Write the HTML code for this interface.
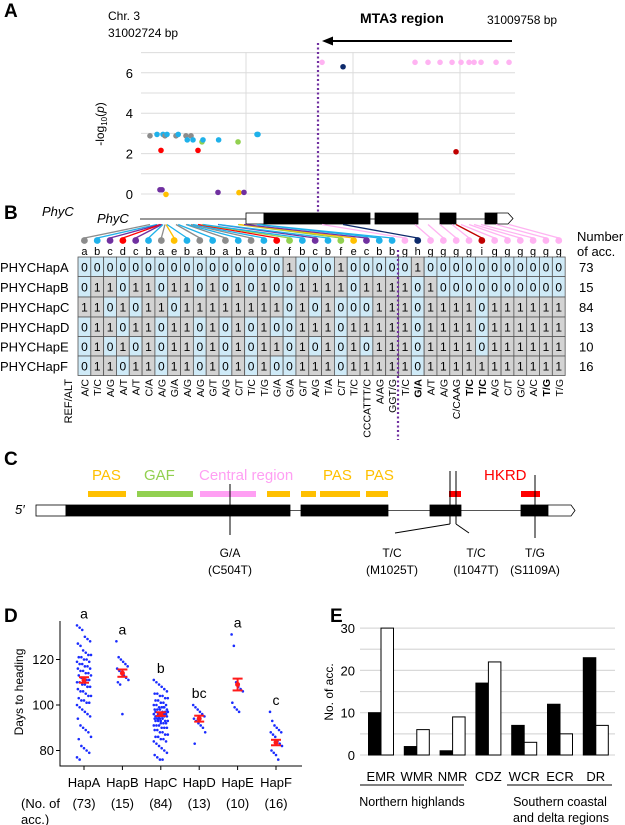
<!DOCTYPE html>
<html><head><meta charset="utf-8"><style>
body{margin:0;background:#fff;}
svg{display:block;font-family:"Liberation Sans",Arial,sans-serif;}
</style></head><body>
<svg id="fig" width="625" height="825" viewBox="0 0 625 825" xmlns="http://www.w3.org/2000/svg">
<g id="gA"></g>
<g id="gB"></g>
<g id="gC"></g>
<g id="gD"></g>
<g id="gE"></g>
</svg>
<script>
// ---------- data ----------
const regionStart = 31002724, regionEnd = 31009758;
const snpLetters = ["a","b","c","d","c","b","a","e","b","a","b","a","b","a","b","d","f","b","c","b","f","e","c","b","b","g","h","g","g","g","g","i","g","g","g","g","g","g"];
const snpOffsets = [169,301,357,376,395,414,451,470,489,658,700,846,870,941,978,1072,1147,1166,1448,1460,1825,1843,1937,2182,2200,3405,3800,5154,5398,5624,5850,5925,6019,6170,6264,6395,6678,6922];
const snpLogP = [2.88,2.95,0.21,2.16,0.21,2.95,2.88,-0.02,2.95,2.88,2.95,2.88,2.68,2.88,2.68,2.16,2.58,2.68,0.08,2.68,2.58,0.07,0.08,2.95,2.95,6.52,6.3,6.52,6.52,6.52,6.52,2.09,6.52,6.52,6.52,6.52,6.52,6.52];
const yTicksA = [0,2,4,6];
const refAlt = ["A/C","T/C","A/G","A/T","A/T","C/A","A/G","G/A","A/G","A/G","G/T","A/G","C/T","T/C","T/G","G/A","G/A","G/T","A/G","T/A","C/T","T/C","CCCATTT/C","A/AG","GGT/G","T/C","G/A","A/T","A/G","C/CAAG","T/C","T/C","A/G","C/T","G/C","A/C","T/G","T/G"];
const boldCols = [26,30,31,36];
const hapNames = ["PHYCHapA","PHYCHapB","PHYCHapC","PHYCHapD","PHYCHapE","PHYCHapF"];
const hapCounts = [73,15,84,13,10,16];
const hapRows = [
"00000000000000001000100000100000000000",
"01101101101010100111101111010000000000",
"11010110111111110101000111011110111111",
"01101101101010100111011111011110111111",
"01010101101010110101010111011110111111",
"01101101101010100111011111011111111111"];
const hapGroups = ["HapA","HapB","HapC","HapD","HapE","HapF"];
const dthA = [135,134,133,130,129,128,127,126,124,123,122,122,121,121,120,120,119,119,118,118,117,117,116,116,115,115,114,114,113,113,112,112,111,111,110,110,109,109,108,108,107,106,106,105,104,104,103,102,102,101,101,100,99,98,97,96,95,94,91,90,89,88,86,85,82,81,80,79,77,76,112,110,108];
const dthB = [128,121,120,119,118,117,116,115,114,113,112,111,110,109,96];
const dthC = [111,110,109,108,107,106,105,105,104,104,103,103,102,102,101,101,100,100,100,99,99,99,98,98,98,98,97,97,97,97,96,96,96,96,96,95,95,95,95,95,94,94,94,94,93,93,93,93,92,92,92,91,91,91,90,90,90,89,89,88,88,87,87,86,86,85,85,84,84,83,82,81,80,79,78,77,76,76,96,97,95,94,93,99];
const dthD = [100,99,98,97,96,95,94,93,92,91,90,88,83];
const dthE = [131,126,110,108,107,106,101,99,98,97];
const dthF = [97,93,91,90,89,88,88,87,86,84,83,82,80,79,78,76];
const dthMean = [111,114,96,94,109,83.5];
const dthErr = [1.2,1.6,0.8,1.3,2.6,1.2];
const sigLetters = ["a","a","b","bc","a","c"];
const yTicksD = [80,100,120];
const regions = ["EMR","WMR","NMR","CDZ","WCR","ECR","DR"];
const accBlack = [10,2,1,17,7,12,23];
const accWhite = [30,6,9,22,3,5,7];
const yTicksE = [0,10,20,30];

const colorMap = {a:"#8c8c8c",b:"#1fb1ea",c:"#7030a0",d:"#ff0000",e:"#ffc000",f:"#92d050",g:"#ffb3f2",h:"#0d2a6b",i:"#c00000"};
const NS="http://www.w3.org/2000/svg";
function mk(parent,tag,attrs,text){const e=document.createElementNS(NS,tag);for(const k in attrs)e.setAttribute(k,attrs[k]);if(text!==undefined)e.textContent=text;parent.appendChild(e);return e;}
const gA=document.getElementById('gA'),gB=document.getElementById('gB'),gC=document.getElementById('gC'),gD=document.getElementById('gD'),gE=document.getElementById('gE');

// panel letters
[["A",4,17,gA],["B",4,219,gB],["C",4,465,gC],["D",4,622,gD],["E",330,622,gE]].forEach(p=>{
 const t=mk(p[3],'text',{x:p[1],y:p[2],'font-size':19,'font-weight':'bold'},p[0]);
 
 
});

// ---------- Panel A ----------
const xA = bp => 141 + (bp)/(regionEnd-regionStart)*374;
const yA = v => 194 - v*20.2;
for(let v=0; v<=7; v++){
 const l=mk(gA,'line',{x1:141,x2:515,y1:yA(v),y2:yA(v),stroke:'#dcdcdc','stroke-width':1});
 
 
}
[246,353,460].forEach(x=>{
 const l=mk(gA,'line',{x1:x,x2:x,y1:52,y2:194,stroke:'#dcdcdc','stroke-width':1});
 
 
});
yTicksA.forEach(v=>{
 const t=mk(gA,'text',{x:133,y:yA(v)+5,'font-size':13,'text-anchor':'end'},String(v));
 
 
});
{
 const t=mk(gA,'text',{transform:'translate(104,124) rotate(-90)','font-size':12,'text-anchor':'middle'});
 
 
 t.innerHTML='-log<tspan font-size="8" dy="3">10</tspan><tspan dy="-3">(</tspan><tspan font-style="italic">p</tspan>)';
}
[["Chr. 3",108,20],["31002724 bp",108,37]].forEach(a=>{const t=mk(gA,'text',{x:a[1],y:a[2],'font-size':12},a[0]);});
{const t=mk(gA,'text',{x:487,y:24,'font-size':12},"31009758 bp");}
{const t=mk(gA,'text',{x:360,y:23,'font-size':14,'font-weight':'bold'},"MTA3 region");}
{const l=mk(gA,'line',{x1:512,x2:330,y1:41,y2:41,stroke:'#000','stroke-width':2});
 const p=mk(gA,'polygon',{points:'322,41 333,36.5 333,45.5',fill:'#000'});}
{const l=mk(gA,'line',{x1:318,x2:318,y1:43,y2:214,stroke:'#7030a0','stroke-width':2.2,'stroke-dasharray':'2,2.5'});}
snpOffsets.forEach((o,i)=>{
 const c=mk(gA,'circle',{cx:xA(o),cy:yA(snpLogP[i]),r:2.8,fill:colorMap[snpLetters[i]]});
 
 
});

// ---------- Panel B ----------
{const t=mk(gB,'text',{x:42,y:216,'font-size':13,'font-style':'italic'},"PhyC");}
{const t=mk(gB,'text',{x:97,y:223,'font-size':13,'font-style':'italic'},"PhyC");}
{const l=mk(gB,'line',{x1:140,x2:505,y1:219,y2:219,stroke:'#333','stroke-width':1});}
[[246,264,'#fff'],[264,370,'#000'],[375,418,'#000'],[440,456,'#000'],[485,497,'#000']].forEach(b=>{
 const r=mk(gB,'rect',{x:b[0],y:213,width:b[1]-b[0],height:11,fill:b[2],stroke:'#000','stroke-width':0.8});
 
 
});
{const p=mk(gB,'polygon',{points:'497,213 508,213 513,218.5 508,224 497,224',fill:'#fff',stroke:'#000','stroke-width':0.8});}
const colX = i => 78 + (i+0.5)*12.82;
const rowY = [257,276.5,297,317,336.5,356];
snpOffsets.forEach((o,i)=>{
 const col=colorMap[snpLetters[i]];
 const l=mk(gB,'line',{x1:colX(i),y1:238,x2:xA(o),y2:224.5,stroke:col,'stroke-width':1.3});
 
 
 const c=mk(gB,'circle',{cx:colX(i),cy:240.5,r:3.4,fill:col});
 
 
 const t=mk(gB,'text',{x:colX(i),y:255,'font-size':11,'text-anchor':'middle'},snpLetters[i]);
 
 
});
hapRows.forEach((row,r)=>{
 const y0=rowY[r], h=(r<5?rowY[r+1]:375.5)-y0;
 const lbl=mk(gB,'text',{x:0,y:y0+h/2+5,'font-size':13},hapNames[r]);
 
 
 for(let i=0;i<38;i++){
  const v=row[i];
  const rc=mk(gB,'rect',{x:78+i*12.82,y:y0,width:12.82,height:h,fill:v==='0'?'#cfeaf7':'#d3d3d3',stroke:'#555','stroke-width':0.8});
  
  
  const t=mk(gB,'text',{x:colX(i),y:y0+h/2+4.5,'font-size':12,'text-anchor':'middle'},v);
  
  
 }
 const n=mk(gB,'text',{x:579,y:y0+h/2+5,'font-size':13},String(hapCounts[r]));
 
 
});
[["Number",577,241],["of acc.",577,256]].forEach(a=>{const t=mk(gB,'text',{x:a[1],y:a[2],'font-size':13},a[0]);});
refAlt.forEach((s,i)=>{
 const attrs={transform:`translate(${colX(i)+4},379) rotate(-90)`,'font-size':10.5,'text-anchor':'end'};
 if(boldCols.includes(i)) attrs['font-weight']='bold';
 const t=mk(gB,'text',attrs,s);
 
 
});
{const t=mk(gB,'text',{transform:'translate(72,379) rotate(-90)','font-size':11,'text-anchor':'end'},"REF/ALT");}
{const l=mk(gB,'line',{x1:398,x2:398,y1:250,y2:440,stroke:'#7030a0','stroke-width':2.2,'stroke-dasharray':'2,2.5'});}

// ---------- Panel C ----------
{const t=mk(gC,'text',{x:15,y:514,'font-size':13,'font-style':'italic'},"5\u2032");}
{const l=mk(gC,'line',{x1:36,x2:570,y1:510.5,y2:510.5,stroke:'#555','stroke-width':1});}
[[36,66,'#fff'],[66,290,'#000'],[301,388,'#000'],[430,461,'#000'],[521,548,'#000']].forEach(b=>{
 const r=mk(gC,'rect',{x:b[0],y:505,width:b[1]-b[0],height:11,fill:b[2],stroke:'#000','stroke-width':0.8});
 
 
});
{const p=mk(gC,'polygon',{points:'548,505 571,505 575,510.5 571,516 548,516',fill:'#fff',stroke:'#000','stroke-width':0.8});}
[[88,126,'#ffc000'],[137,193,'#92d050'],[200,256,'#ff9ff3'],[267,290,'#ffc000'],[301,316,'#ffc000'],[320,360,'#ffc000'],[366,388,'#ffc000'],[449,461,'#ff0000'],[521,540,'#ff0000']].forEach(d=>{
 const r=mk(gC,'rect',{x:d[0],y:491,width:d[1]-d[0],height:6,fill:d[2]});
 
 
});
[["PAS",92,'#ffc000'],["GAF",144,'#92d050'],["Central region",199,'#ff9ff3'],["PAS",323,'#ffc000'],["PAS",365,'#ffc000'],["HKRD",484,'#ff0000']].forEach(a=>{
 const t=mk(gC,'text',{x:a[1],y:480,'font-size':15,fill:a[2]},a[0]);
 
 
});
[[230,484,535],[450,471,524],[456,471,524],[535,475,538]].forEach(l=>{
 const e=mk(gC,'line',{x1:l[0],x2:l[0],y1:l[1],y2:l[2],stroke:'#000','stroke-width':1});
 
 
});
[[450,524,395,533],[456,524,469,533]].forEach(l=>{
 const e=mk(gC,'line',{x1:l[0],y1:l[1],x2:l[2],y2:l[3],stroke:'#000','stroke-width':1});
 
 
});
[["G/A","(C504T)",230],["T/C","(M1025T)",392],["T/C","(I1047T)",476],["T/G","(S1109A)",535]].forEach(a=>{
 const t1=mk(gC,'text',{x:a[2],y:557,'font-size':12,'text-anchor':'middle'},a[0]);
 
 
 const t2=mk(gC,'text',{x:a[2],y:574,'font-size':12,'text-anchor':'middle'},a[1]);
 
 
});

// ---------- Panel D ----------
const yD = v => 705 - (v-100)*2.275;
const xD = i => 84 + i*38.4;
{const l=mk(gD,'polyline',{points:'60,621 60,766 302,766',fill:'none',stroke:'#000','stroke-width':1});}
yTicksD.forEach(v=>{
 const l=mk(gD,'line',{x1:56,x2:60,y1:yD(v),y2:yD(v),stroke:'#000'});
 
 
 const t=mk(gD,'text',{x:54,y:yD(v)+4.5,'font-size':13,'text-anchor':'end'},String(v));
 
 
});
{const t=mk(gD,'text',{transform:'translate(23,692) rotate(-90)','font-size':12,'text-anchor':'middle'},"Days to heading");}
const dthAll=[dthA,dthB,dthC,dthD,dthE,dthF];
dthAll.forEach((arr,g)=>{
 const cx=xD(g);
 const tk=mk(gD,'line',{x1:cx,x2:cx,y1:766,y2:770,stroke:'#000'});
 
 
 arr.forEach((v,i)=>{
  const jit=(((i*37)%17)-8)/8*(g===2||g===0?7:6);
  const c=mk(gD,'circle',{cx:cx+jit,cy:yD(v),r:1.3,fill:'#1a2cff'});
  
  
 });
 const m=dthMean[g], e=dthErr[g];
 const el=mk(gD,'line',{x1:cx,x2:cx,y1:yD(m+e),y2:yD(m-e),stroke:'#ff1a1a','stroke-width':2});
 
 
 [m+e,m-e].forEach(vv=>{
  const cap=mk(gD,'line',{x1:cx-5,x2:cx+5,y1:yD(vv),y2:yD(vv),stroke:'#ff1a1a','stroke-width':2});
  
  
 });
 const md=mk(gD,'circle',{cx:cx,cy:yD(m),r:2.5,fill:'#ff1a1a'});
 
 
 const maxv=Math.max(...arr);
 const sl=mk(gD,'text',{x:cx,y:yD(maxv)-7,'font-size':14,'text-anchor':'middle'},sigLetters[g]);
 
 
 const xl=mk(gD,'text',{x:cx,y:787,'font-size':13,'text-anchor':'middle'},hapGroups[g]);
 
 
 const nl=mk(gD,'text',{x:cx,y:808,'font-size':13,'text-anchor':'middle'},'('+arr.length+')');
 
 
});
[["(No. of",21,808],["acc.)",21,824]].forEach(a=>{const t=mk(gD,'text',{x:a[1],y:a[2],'font-size':13},a[0]);});

// ---------- Panel E ----------
const yE = v => 755 - v*4.23;
const xE = i => 381 + i*35.8;
for(let v=0; v<=30; v+=5){
 const l=mk(gE,'line',{x1:360,x2:615,y1:yE(v),y2:yE(v),stroke:'#d9d9d9','stroke-width':1.2});
 
 
}
yTicksE.forEach(v=>{
 const t=mk(gE,'text',{x:355,y:yE(v)+5,'font-size':13,'text-anchor':'end'},String(v));
 
 
});
{const t=mk(gE,'text',{transform:'translate(333,692) rotate(-90)','font-size':12,'text-anchor':'middle'},"No. of acc.");}
regions.forEach((r,i)=>{
 const cx=xE(i);
 const b=mk(gE,'rect',{x:cx-12.5,y:yE(accBlack[i]),width:12.5,height:yE(0)-yE(accBlack[i]),fill:'#000',stroke:'#000','stroke-width':1});
 
 
 const w=mk(gE,'rect',{x:cx,y:yE(accWhite[i]),width:12.5,height:yE(0)-yE(accWhite[i]),fill:'#fff',stroke:'#000','stroke-width':1});
 
 
 const t=mk(gE,'text',{x:cx,y:781,'font-size':13,'text-anchor':'middle'},r);
 
 
});
[[360,464],[507,612]].forEach(a=>{const l=mk(gE,'line',{x1:a[0],x2:a[1],y1:785,y2:785,stroke:'#000','stroke-width':1});});
[["Northern highlands",412,806],["Southern coastal",560,806],["and delta regions",561,822]].forEach(a=>{const t=mk(gE,'text',{x:a[1],y:a[2],'font-size':12.5,'text-anchor':'middle'},a[0]);});
</script>
</body></html>
